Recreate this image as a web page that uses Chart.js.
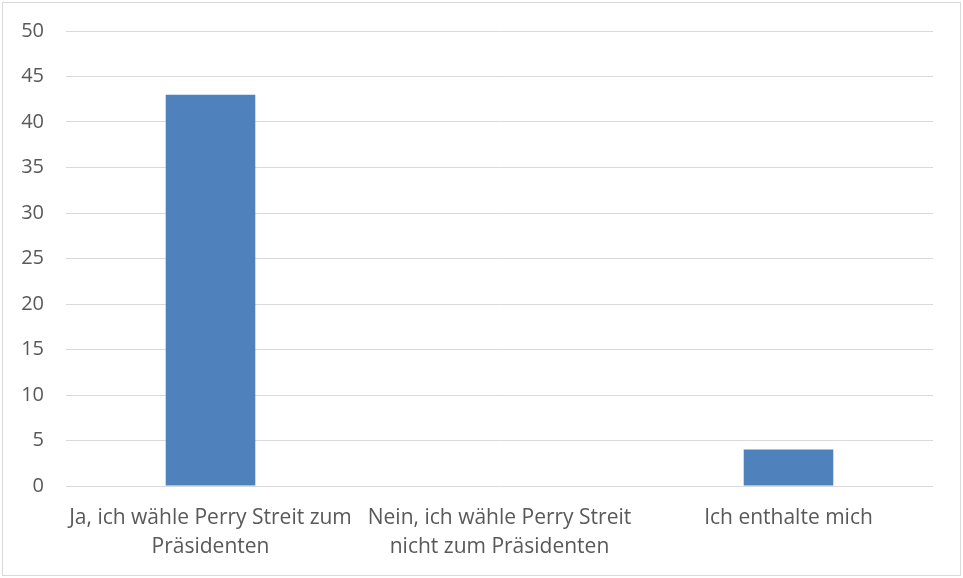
<!DOCTYPE html>
<html>
<head>
<meta charset="utf-8">
<script src="https://cdn.jsdelivr.net/npm/chart.js@4"></script>
<style>
    html, body { margin: 0; padding: 0; background: #ffffff; }
    #wrap {
        position: absolute; left: 2px; top: 2px;
        width: 959px; height: 574px;
        border: 1px solid #d9d9d9;
        box-sizing: border-box;
    }
    #chart { position: absolute; left: 0; top: 0; }
</style>
</head>
<body>
<div id="wrap"><canvas id="chart" width="957" height="572"></canvas></div>
<script>
const categories = [
    ['Ja, ich wähle Perry Streit zum', 'Präsidenten'],
    ['Nein, ich wähle Perry Streit', 'nicht zum Präsidenten'],
    'Ich enthalte mich'
];
const votes = [43, 0, 4];
const yMin = 0;
const yMax = 50;
const yStep = 5;

const fontFamily = '"Open Sans", Lato, sans-serif';
const textColor = '#595959';

const ctx = document.getElementById('chart').getContext('2d');
new Chart(ctx, {
    type: 'bar',
    data: {
        labels: categories,
        datasets: [{
            data: votes,
            backgroundColor: '#4f81bd',
            borderWidth: 0,
            categoryPercentage: 1,
            barPercentage: 0.31
        }]
    },
    options: {
        responsive: false,
        animation: false,
        layout: { padding: { left: 0, right: 27, top: 28, bottom: 0 } },
        plugins: {
            legend: { display: false },
            tooltip: { enabled: false }
        },
        scales: {
            y: {
                min: yMin,
                max: yMax,
                afterFit: function (scale) {
                    scale.width = 63;
                    scale.paddingTop = 0;
                },
                ticks: {
                    stepSize: yStep,
                    color: textColor,
                    padding: 22,
                    font: { family: fontFamily, size: 20 }
                },
                grid: { color: '#d9d9d9', lineWidth: 1, drawTicks: false },
                border: { display: false }
            },
            x: {
                afterFit: function (scale) { scale.height = 89; },
                ticks: {
                    color: textColor,
                    padding: 17,
                    maxRotation: 0,
                    autoSkip: false,
                    font: { family: fontFamily, size: 21, lineHeight: 1.4 }
                },
                grid: { display: false, drawTicks: false },
                border: { display: false }
            }
        }
    }
});
</script>
</body>
</html>
